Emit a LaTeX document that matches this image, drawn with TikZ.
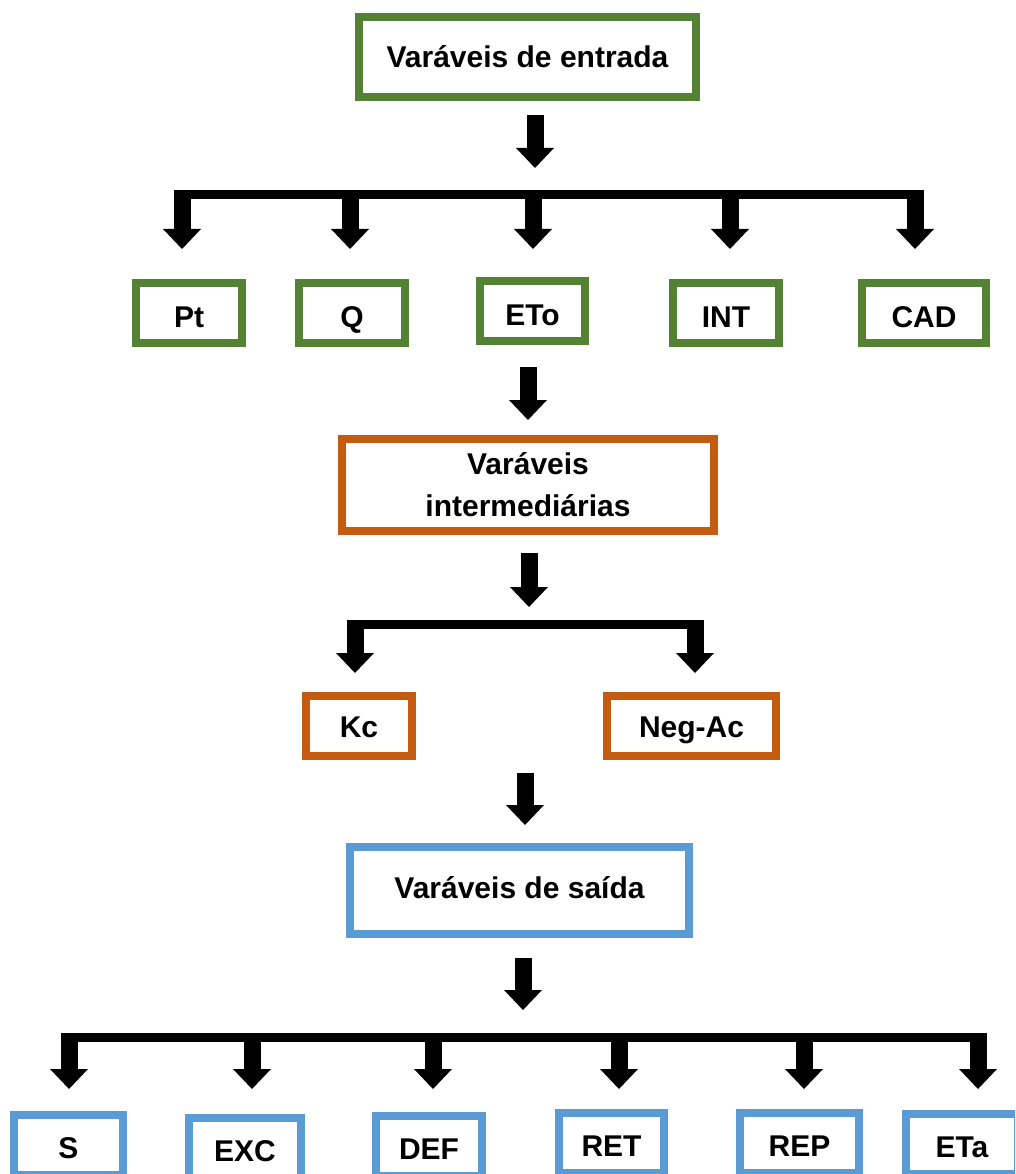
\documentclass[tikz,border=0pt]{standalone}
\usepackage{fontspec}
\setmainfont{Liberation Sans}
\usetikzlibrary{arrows.meta}
\definecolor{cgreen}{HTML}{548235}
\definecolor{corange}{HTML}{C55A11}
\definecolor{cblue}{HTML}{5B9BD5}
\begin{document}
\begin{tikzpicture}[x=1pt,y=-1pt,
  box/.style={draw, line width=8pt, inner sep=0pt, align=center, fill=white,
    font=\fontsize{30}{42}\selectfont\bfseries},
  gbox/.style={box, draw=cgreen},
  obox/.style={box, draw=corange},
  bbox/.style={box, draw=cblue},
  small/.style={minimum height=60pt},
  base/.style={text height=#1, text depth=0pt},
  bar/.style={line width=9pt},
  shaft/.style={line width=17pt, -{Triangle[width=38pt,length=20pt,line width=0pt]}},
]
\useasboundingbox (0,0) rectangle (1015,1174);
\clip (0,0) rectangle (1015,1174);

% ---------- level 1 ----------
\node[gbox, base=22pt, minimum width=337pt, minimum height=80pt] (entrada) at (527.5,57) {Varáveis de entrada};
\node[gbox, small, base=28pt, minimum width=106pt] (Pt)  at (189,313)   {Pt};
\node[gbox, small, base=28pt, minimum width=106pt] (Q)   at (352,313)   {Q};
\node[gbox, small, base=28pt, minimum width=105pt] (ETo) at (532.5,311) {ETo};
\node[gbox, small, base=28pt, minimum width=106pt] (INT) at (726,313)   {INT};
\node[gbox, small, base=28pt, minimum width=124pt] (CAD) at (924,313)   {CAD};

\coordinate (a1s) at (535,115); \coordinate (a1e) at (535,168);
\draw[shaft] (a1s) -- (a1e);
\coordinate (r1L) at (173.5,194.5); \coordinate (r1R) at (923.5,194.5);
\draw[bar] (r1L) -- (r1R);
\foreach \x in {182,350,533,730,915}{
  \draw[shaft] (\x,190) -- (\x,249);
}

% ---------- level 2 ----------
\coordinate (a2s) at (528,367); \coordinate (a2e) at (528,420);
\draw[shaft] (a2s) -- (a2e);
\node[obox, minimum width=372pt, minimum height=92pt] (inter) at (528,485) {Varáveis\\intermediárias};

\coordinate (a3s) at (529,553); \coordinate (a3e) at (529,607);
\draw[shaft] (a3s) -- (a3e);
\coordinate (r2L) at (346.5,624); \coordinate (r2R) at (703.5,624);
\draw[bar] (r2L) -- (r2R);
\foreach \x in {355,695}{
  \draw[shaft] (\x,620) -- (\x,673);
}
\node[obox, small, base=22pt, minimum width=106pt] (Kc)  at (359,726)   {Kc};
\node[obox, small, base=22pt, minimum width=169pt] (Neg) at (691.5,726) {Neg-Ac};

% ---------- level 3 ----------
\coordinate (a4s) at (525,773); \coordinate (a4e) at (525,825);
\draw[shaft] (a4s) -- (a4e);
\node[bbox, base=16pt, minimum width=339pt, minimum height=87pt] (saida) at (519.5,890.5) {Varáveis de saída};

\coordinate (a5s) at (523,958); \coordinate (a5e) at (523,1010);
\draw[shaft] (a5s) -- (a5e);
\coordinate (r3L) at (60.5,1037.5); \coordinate (r3R) at (986.5,1037.5);
\draw[bar] (r3L) -- (r3R);
\foreach \x in {69,252,433,619,804,978}{
  \draw[shaft] (\x,1033) -- (\x,1089);
}
\node[bbox, small, base=27pt, minimum width=109pt] (S)   at (68.5,1145) {S};
\node[bbox, small, base=27pt, minimum width=112pt] (EXC) at (245,1148)  {EXC};
\node[bbox, small, base=27pt, minimum width=106pt] (DEF) at (429,1146)  {DEF};
\node[bbox, small, base=27pt, minimum width=105pt] (RET) at (611.5,1143) {RET};
\node[bbox, small, base=27pt, minimum width=119pt] (REP) at (799.5,1143) {REP};
\node[bbox, small, base=27pt, minimum width=112pt] (ETa) at (962,1144)  {ETa};
\end{tikzpicture}
\end{document}
